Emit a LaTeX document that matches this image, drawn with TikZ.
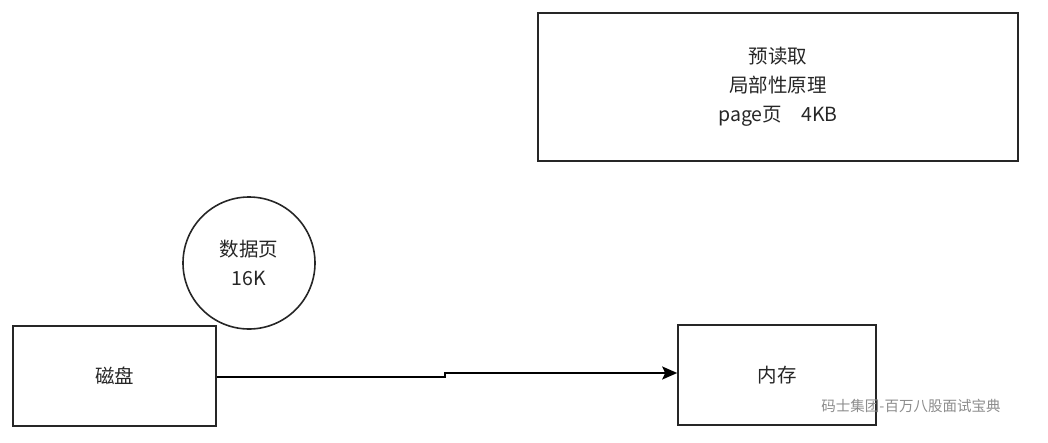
\documentclass[tikz,border=0pt]{standalone}
\usepackage{fontspec}
\setmainfont{Noto Sans CJK SC}
\usetikzlibrary{arrows.meta}
\begin{document}
\begin{tikzpicture}[x=1pt,y=-1pt,
  box/.style={draw=black!85,line width=1.6pt,inner sep=0pt,font=\fontsize{19.5}{29}\selectfont,align=center,text=black!85},
  conn/.style={line width=2pt,-{Stealth[length=15pt,width=13pt,inset=3pt]}}]
\useasboundingbox (0,0) rectangle (1048,442);
\node[box,minimum width=480pt,minimum height=148pt] (pre) at (778,87) {预读取\\局部性原理\\page页\hspace{1em}4KB};
\node[box,circle,minimum size=132pt] (page) at (249,263) {数据页\\16K};
\node[box,minimum width=203pt,minimum height=100pt] (disk) at (114.5,376) {磁盘};
\node[box,minimum width=198pt,minimum height=100pt] (mem) at (777,375) {内存};
\coordinate (s1) at (445,377);
\coordinate (s2) at (445,373);
\draw[conn] (disk.east |- s1) -- (s1) -- (s2) -- (mem.west |- s2);
\node[text=black!45,font=\fontsize{14.5}{16}\selectfont,inner sep=0pt] (wm) at (911,406) {码士集团-百万八股面试宝典};
\end{tikzpicture}
\end{document}
